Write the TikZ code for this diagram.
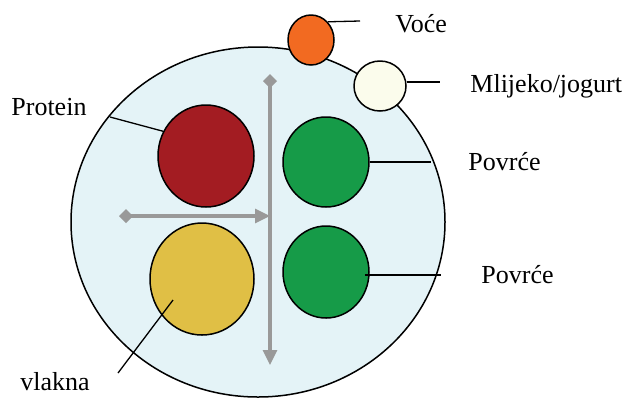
\documentclass[tikz,border=0pt]{standalone}
\usepackage{fontspec}
\setmainfont{Liberation Serif}
\usetikzlibrary{shapes.geometric,arrows.meta}

\definecolor{plate}{HTML}{E4F3F7}
\definecolor{meat}{HTML}{A31C22}
\definecolor{grain}{HTML}{E0BF45}
\definecolor{veg}{HTML}{169B48}
\definecolor{fruit}{HTML}{F26A21}
\definecolor{milk}{HTML}{FBFCEC}
\definecolor{axis}{HTML}{999999}

\begin{document}
\begin{tikzpicture}[x=0.5pt,y=-0.5pt,
  food/.style={ellipse,draw,line width=0.75pt,inner sep=0pt},
  lbl/.style={anchor=base west,inner sep=0pt,font=\fontsize{13}{16}\selectfont},
  pointer/.style={line width=0.65pt},
  axisline/.style={draw=axis,line width=1.6pt,{Diamond[length=7pt,width=7pt]}-{Triangle[length=7.5pt,width=7pt]}}]
\useasboundingbox (0,0) rectangle (625,398);
% plate
\draw (258,222) node[food,fill=plate,minimum width=187pt,minimum height=175pt](plate) {};
% food groups
\draw (206,156) node[food,fill=meat,minimum width=48pt,minimum height=51pt](protein) {};
\draw (202,279) node[food,fill=grain,minimum width=52pt,minimum height=56pt](fibre) {};
\draw (326,162) node[food,fill=veg,minimum width=43pt,minimum height=45pt](vegA) {};
\draw (326,272) node[food,fill=veg,minimum width=43pt,minimum height=46pt](vegB) {};
\draw (311,40) node[food,fill=fruit,minimum width=23pt,minimum height=25pt](fruit) {};
\draw (380,86) node[food,fill=milk,minimum width=26pt,minimum height=25pt](dairy) {};
% axes
\coordinate (vtop) at (270,74);
\coordinate (vbot) at (270,365);
\coordinate (hleft) at (119,216);
\coordinate (hright) at (270,216);
\draw[axisline] (vtop) -- (vbot);
\draw[axisline] (hleft) -- (hright);
% labels
\node[lbl](fruitlbl) at (395,32) {Voće};
\node[lbl](dairylbl) at (470,92) {Mlijeko/jogurt};
\node[lbl](vegAlbl) at (468,170) {Povrće};
\node[lbl](vegBlbl) at (481,283) {Povrće};
\node[lbl](proteinlbl) at (11,115) {Protein};
\node[lbl](fibrelbl) at (20,390) {vlakna};
% pointers
\coordinate (fruitend) at (360,21);
\coordinate (dairyend) at (440,82);
\coordinate (vegAend) at (431,162);
\coordinate (vegBend) at (441,275);
\coordinate (proteinend) at (110,117);
\coordinate (fibreend) at (118,373);
\draw[pointer] (fruit.north east) -- (fruitend);
\draw[pointer] (dairy.east |- dairyend) -- (dairyend);
\draw[pointer] (vegA.east) -- (vegAend);
\draw[pointer] ([xshift=-2.5pt]vegB.east |- vegBend) -- (vegBend);
\draw[pointer] (protein.150) -- (proteinend);
\draw[pointer] ([shift={(-14.5pt,-10.5pt)}]fibre.center) -- (fibreend);
\end{tikzpicture}
\end{document}
